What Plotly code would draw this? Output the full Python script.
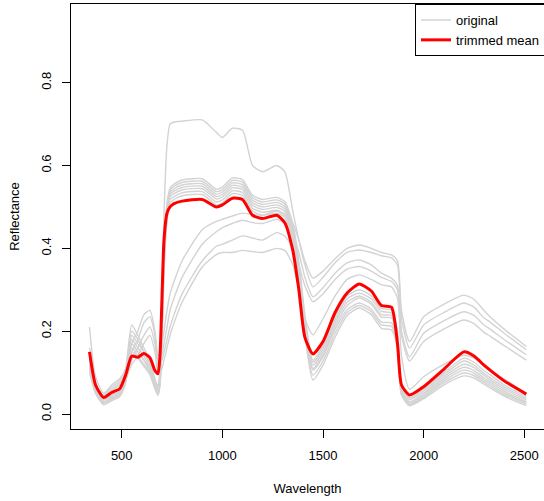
import plotly.graph_objects as go

wavelength = [340, 370, 410, 450, 490, 520, 550, 580, 610, 640, 665, 680,
              690, 700, 710, 725, 740, 760,
              800, 900, 970, 1000, 1050, 1100, 1150, 1200, 1270, 1310,
              1350, 1380, 1410, 1450,
              1500, 1560, 1620, 1680, 1740, 1790, 1840, 1870, 1890, 1930,
              2000, 2100, 2200, 2250, 2300, 2330, 2400, 2510]

trimmed_mean = [.150, .070, .040, .052, .061, .095, .140, .137, .146, .136, .105, .097,
                .140, .280, .420, .485, .500, .508,
                .514, .518, .500, .505, .521, .518, .480, .472, .480, .462,
                .395, .300, .185, .145,
                .175, .245, .292, .314, .297, .262, .258, .170, .070, .046,
                .066, .108, .150, .140, .118, .106, .080, .048]

s01 = [.14, .07, .035, .045, .055, .10, .17, .15, .13, .11, .08, .07,
       .10, .25, .48, .65, .70, .705,
       .707, .71, .68, .668, .69, .685, .60, .585, .60, .585,
       .49, .42, .36, .307,
       .33, .365, .39, .396, .39, .382, .377, .36, .23, .159,
       .215, .245, .268, .258, .232, .222, .195, .155]
s02 = [.21, .09, .05, .07, .085, .11, .17, .20, .24, .25, .20, .14,
       .15, .17, .20, .25, .29, .32,
       .37, .445, .465, .47, .478, .485, .482, .48, .49, .48,
       .46, .42, .37, .328,
       .345, .375, .40, .408, .40, .39, .384, .37, .25, .175,
       .235, .265, .287, .277, .25, .235, .205, .163]
s03 = [.13, .07, .045, .065, .08, .10, .15, .18, .22, .235, .19, .13,
       .13, .145, .17, .21, .25, .28,
       .33, .41, .44, .45, .46, .468, .462, .46, .47, .46,
       .43, .39, .33, .283,
       .305, .34, .365, .372, .36, .34, .328, .31, .20, .138,
       .195, .225, .247, .238, .215, .205, .18, .143]
s04 = [.12, .06, .04, .06, .075, .09, .13, .16, .19, .21, .17, .12,
       .12, .13, .15, .18, .21, .24,
       .29, .37, .405, .41, .42, .43, .425, .42, .438, .43,
       .40, .36, .31, .271,
       .29, .325, .35, .356, .345, .33, .32, .30, .19, .128,
       .175, .205, .227, .218, .197, .188, .165, .13]
s05 = [.11, .055, .035, .055, .07, .085, .12, .14, .17, .19, .15, .10,
       .10, .11, .13, .16, .19, .22,
       .27, .355, .385, .39, .39, .395, .392, .39, .40, .395,
       .36, .30, .23, .191,
       .23, .285, .325, .336, .325, .312, .307, .28, .14, .06,
       .09, .12, .142, .135, .115, .105, .085, .05]
s06 = [.16, .075, .035, .045, .055, .11, .215, .19, .16, .13, .085, .065,
       .10, .24, .40, .51, .545, .555,
       .565, .568, .543, .548, .57, .566, .528, .518, .523, .513,
       .46, .37, .24, .13,
       .165, .235, .285, .30, .285, .255, .251, .20, .07, .039,
       .06, .10, .135, .125, .105, .095, .07, .042]
s07 = [.15, .07, .03, .04, .05, .10, .20, .18, .15, .12, .08, .06,
       .09, .22, .39, .50, .54, .55,
       .559, .562, .537, .542, .564, .56, .522, .512, .517, .507,
       .45, .36, .23, .125,
       .158, .228, .278, .292, .278, .248, .244, .19, .065, .035,
       .055, .095, .128, .118, .098, .088, .065, .038]
s08 = [.14, .065, .03, .04, .05, .095, .19, .17, .15, .12, .075, .055,
       .085, .21, .38, .495, .535, .544,
       .553, .556, .531, .536, .558, .554, .516, .506, .511, .501,
       .445, .355, .225, .118,
       .15, .22, .27, .285, .27, .24, .238, .185, .06, .03,
       .05, .09, .12, .112, .093, .083, .06, .034]
s09 = [.13, .06, .028, .038, .048, .09, .18, .16, .14, .11, .07, .05,
       .08, .20, .37, .49, .53, .538,
       .547, .55, .525, .53, .552, .548, .51, .50, .505, .495,
       .44, .35, .22, .11,
       .142, .212, .262, .28, .265, .234, .232, .18, .055, .027,
       .046, .085, .113, .105, .087, .078, .055, .03]
s10 = [.12, .055, .025, .035, .045, .085, .17, .15, .13, .10, .065, .048,
       .075, .19, .36, .48, .525, .532,
       .541, .544, .519, .524, .546, .542, .504, .494, .499, .489,
       .435, .34, .21, .106,
       .138, .205, .252, .268, .253, .222, .22, .17, .05, .024,
       .042, .08, .106, .099, .082, .073, .051, .027]
s11 = [.11, .05, .025, .035, .045, .08, .16, .14, .12, .10, .065, .046,
       .07, .18, .35, .47, .518, .525,
       .534, .537, .512, .517, .539, .535, .497, .487, .492, .482,
       .425, .33, .20, .094,
       .128, .195, .245, .262, .247, .215, .212, .165, .048, .022,
       .04, .075, .099, .093, .077, .068, .047, .024]
s12 = [.10, .05, .022, .032, .042, .075, .15, .135, .115, .095, .06, .045,
       .07, .17, .34, .465, .51, .518,
       .527, .53, .505, .51, .532, .528, .49, .48, .485, .475,
       .42, .32, .19, .082,
       .118, .185, .238, .256, .24, .207, .203, .16, .045, .02,
       .037, .07, .092, .087, .072, .063, .043, .02]

originals = [s01, s02, s03, s04, s05, s06, s07, s08, s09, s10, s11, s12]

x_ticks = [500, 1000, 1500, 2000, 2500]
y_ticks = [0.0, 0.2, 0.4, 0.6, 0.8]
y_tick_labels = ["0.0", "0.2", "0.4", "0.6", "0.8"]

fig = go.Figure()
for i, s in enumerate(originals):
    fig.add_trace(go.Scatter(
        x=wavelength, y=s, mode="lines", name="original",
        legendgroup="orig", showlegend=(i == 0), hoverinfo="skip",
        line=dict(color="#D3D3D3", width=1.4, shape="spline", smoothing=0.6)))
fig.add_trace(go.Scatter(
    x=wavelength, y=trimmed_mean, mode="lines", name="trimmed mean",
    line=dict(color="red", width=3, shape="spline", smoothing=0.6)))

font_family = "Liberation Sans, Arial, Helvetica, sans-serif"
fig.update_layout(
    width=544, height=501,
    margin=dict(l=71, r=0, t=4, b=72, autoexpand=False),
    paper_bgcolor="white", plot_bgcolor="white",
    font=dict(family=font_family, size=13, color="black"),
    showlegend=True,
    legend=dict(x=1.0042, xanchor="right", y=1, yanchor="top",
                bordercolor="black", borderwidth=1, bgcolor="white",
                font=dict(size=13), tracegroupgap=0, itemwidth=30,
                entrywidth=100, entrywidthmode="pixels"),
)
fig.update_xaxes(
    range=[248, 2598], tickvals=x_ticks, ticks="outside", ticklen=8,
    tickcolor="black", tickwidth=1, showline=True, linecolor="black",
    linewidth=1, mirror=True, showgrid=False, zeroline=False,
    ticklabelstandoff=6,
    title=dict(text="Wavelength", standoff=22, font=dict(size=13)))
fig.update_yaxes(
    range=[-0.0362, 0.990], tickvals=y_ticks, ticktext=y_tick_labels,
    tickangle=-90, ticks="outside", ticklen=8, tickcolor="black", tickwidth=1,
    showline=True, linecolor="black", linewidth=1, mirror=False,
    showgrid=False, zeroline=False, ticklabelstandoff=6,
    title=dict(text="Reflectance", standoff=16, font=dict(size=13)))

fig.write_html("out.html",
               config={"displayModeBar": False},
               post_script="document.body.style.margin='0px';"
                           "document.body.style.overflow='hidden';")
